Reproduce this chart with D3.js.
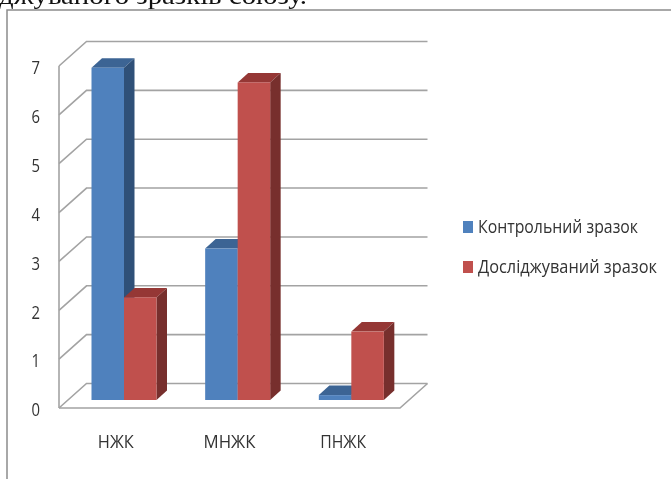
<!DOCTYPE html>
<html>
<head>
<meta charset="utf-8">
<script src="https://cdn.jsdelivr.net/npm/d3@7"></script>
<style>
  body { margin: 0; background: #fff; overflow: hidden; }
  svg { filter: blur(0.35px); }
  text { fill: #333; font-family: "Open Sans", "Noto Sans", sans-serif; }
</style>
</head>
<body>
<div id="chart"></div>
<script>
let categories = ['НЖК', 'МНЖК', 'ПНЖК']
let seriesNames = ['Контрольний зразок', 'Досліджуваний зразок']
let control = [6.8, 3.1, 0.1]
let sample = [2.1, 6.5, 1.4]
let yTicks = [0, 1, 2, 3, 4, 5, 6, 7]
let fronts = ['#4f81bd', '#c0504d']
let tops = ['#3c6494', '#953735']
let sides = ['#2f5078', '#772f2d']

let width = 671
let height = 479
let wallX = 27.5
let wallY = 24.5
let barShift = 8
let barDepthX = 10.5
let barDepthY = 9.5

// the reference font is narrower than anything installed, so squeeze to these widths
let categoryWidths = [36, 52, 46]
let legendWidths = [160, 179]

let svg = d3
  .select('#chart')
  .append('svg')
  .attr('width', width)
  .attr('height', height)

let x = d3.scaleBand().domain(categories).range([59, 400])
let y = d3.scaleLinear().domain([0, 7]).range([408, 66])
let inner = d3.scaleBand().domain([0, 1]).range([32.5, 32.5 + 65])

// scrap of the paragraph above the chart
svg
  .append('text')
  .attr('x', -1)
  .attr('y', 4)
  .attr('textLength', 308)
  .attr('lengthAdjust', 'spacingAndGlyphs')
  .style('font-family', '"Liberation Serif", serif')
  .style('font-size', '25px')
  .style('fill', '#111')
  .text('джуваного зразків союзу.')

// frame of the chart
svg
  .append('path')
  .attr('d', d3.line()([[7, 479], [7, 10], [671, 10]]))
  .attr('fill', 'none')
  .attr('stroke', '#8c8c8c')
  .attr('stroke-width', 1.5)

// walls and gridlines
let grid = svg.append('g').attr('fill', 'none').attr('stroke', '#a3a3a3').attr('stroke-width', 1.6)

yTicks.forEach(t => {
  grid
    .append('path')
    .attr('d', d3.line()([[59, y(t)], [59 + wallX, y(t) - wallY], [400 + wallX, y(t) - wallY]]))
})
grid.append('path').attr('d', d3.line()([[59, y(0)], [59, y(7)]]))
grid.append('path').attr('d', d3.line()([[59, y(0)], [400, y(0)], [400 + wallX, y(0) - wallY]]))

// bars
let barData = []
categories.forEach((c, i) => {
  barData.push({ cat: c, s: 0, value: control[i] })
  barData.push({ cat: c, s: 1, value: sample[i] })
})

let bars = svg
  .selectAll('.bar')
  .data(barData)
  .enter()
  .append('g')
  .attr('class', 'bar')

bars.each(function(d) {
  let g = d3.select(this)
  let x0 = x(d.cat) + inner(d.s)
  let x1 = x0 + inner.bandwidth()
  let yTop = y(d.value) - barShift
  let yBase = y(0) - barShift
  let line = d3.line()

  g.append('path')
    .attr('fill', tops[d.s])
    .attr('d', line([[x0, yTop], [x1, yTop], [x1 + barDepthX, yTop - barDepthY], [x0 + barDepthX, yTop - barDepthY]]) + 'Z')
  g.append('path')
    .attr('fill', sides[d.s])
    .attr('d', line([[x1, yTop], [x1 + barDepthX, yTop - barDepthY], [x1 + barDepthX, yBase - barDepthY], [x1, yBase]]) + 'Z')
  g.append('rect')
    .attr('x', x0)
    .attr('y', yTop)
    .attr('width', inner.bandwidth())
    .attr('height', yBase - yTop)
    .attr('fill', fronts[d.s])
})

// axis labels
let yAxis = svg
  .append('g')
  .attr('transform', 'translate(40,2)')
  .call(d3.axisLeft(y).tickValues(yTicks).tickSize(0).tickFormat(d3.format('d')))
yAxis.select('.domain').remove()
yAxis
  .selectAll('text')
  .style('font-size', '18px')
  .attr('x', 0)
  .attr('textLength', 8.5)
  .attr('lengthAdjust', 'spacingAndGlyphs')

let xAxis = svg
  .append('g')
  .attr('transform', 'translate(0,434)')
  .call(d3.axisBottom(x).tickSize(0))
xAxis.select('.domain').remove()
xAxis
  .selectAll('text')
  .style('font-size', '18px')
  .attr('y', 0)
  .attr('dy', '0.8em')
  .attr('textLength', (d, i) => categoryWidths[i])
  .attr('lengthAdjust', 'spacingAndGlyphs')

// legend
let legend = svg
  .selectAll('.legend')
  .data(seriesNames)
  .enter()
  .append('g')
  .attr('class', 'legend')
  .attr('transform', (d, i) => 'translate(463,' + (221 + i * 40) + ')')

legend
  .append('rect')
  .attr('width', 10)
  .attr('height', 12)
  .attr('fill', (d, i) => fronts[i])

legend
  .append('text')
  .attr('x', 15)
  .attr('y', 12)
  .style('font-size', '18px')
  .attr('textLength', (d, i) => legendWidths[i])
  .attr('lengthAdjust', 'spacingAndGlyphs')
  .text(d => d)
</script>
</body>
</html>
